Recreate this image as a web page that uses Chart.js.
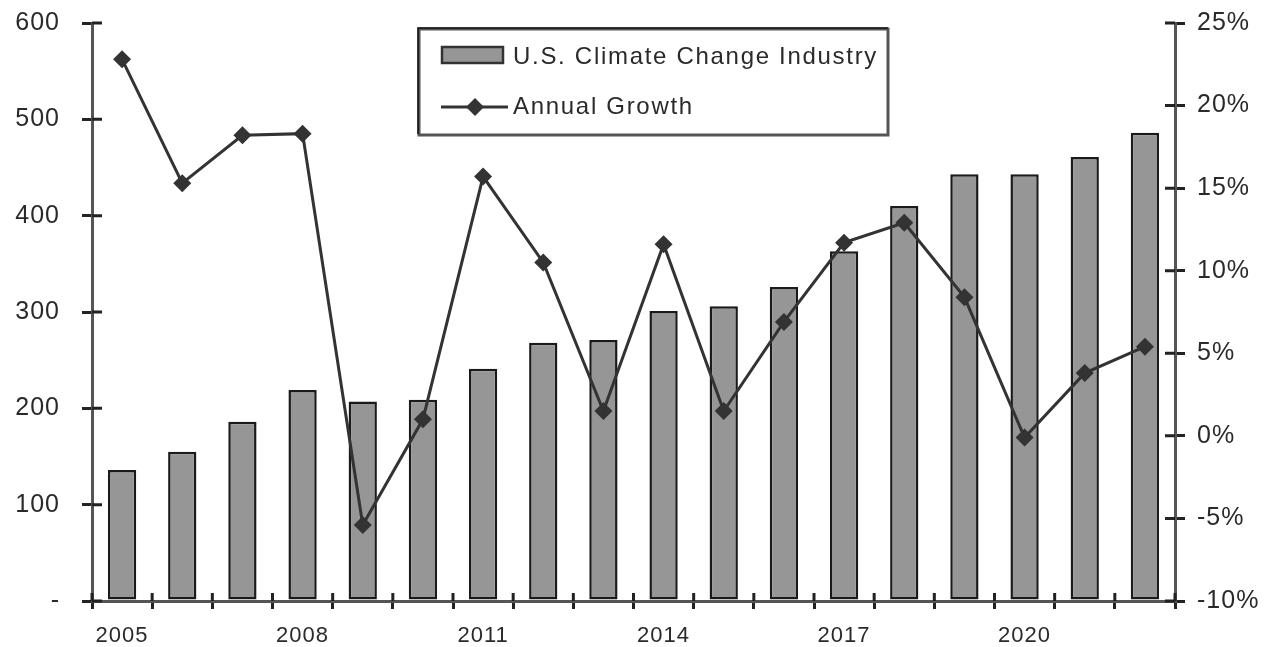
<!DOCTYPE html>
<html>
<head>
<meta charset="utf-8">
<script src="https://cdn.jsdelivr.net/npm/chart.js@4.4.1/dist/chart.umd.min.js"></script>
<style>
html,body{margin:0;padding:0;background:#fff;}
#wrap{width:1271px;height:647px;position:relative;}
</style>
</head>
<body>
<div id="wrap"><canvas id="c"></canvas></div>
<script>
const years = ['2005','2006','2007','2008','2009','2010','2011','2012','2013','2014','2015','2016','2017','2018','2019','2020','2021','2022'];
const industryValues = [136,155,186,219,207,209,241,268,271,301,306,326,363,410,443,443,461,486];
const growthValues = [22.8,15.3,18.2,18.3,-5.4,1.0,15.7,10.5,1.5,11.6,1.5,6.9,11.7,12.9,8.4,-0.1,3.8,5.4];
const leftTicks = [0,100,200,300,400,500,600];
const rightTicks = [-10,-5,0,5,10,15,20,25];
const seriesLabels = ['U.S. Climate Change Industry','Annual Growth'];

const FONT = '"Liberation Sans", Arial, sans-serif';
const TXT = '#2a2a2a';

const spacingPlugin = {
  id: 'spacing',
  beforeUpdate(chart) { chart.ctx.letterSpacing = '1px'; },
  beforeDraw(chart) { chart.ctx.letterSpacing = '1px'; }
};

const crossTicksPlugin = {
  id: 'crossTicks',
  afterDraw(chart) {
    const ctx = chart.ctx;
    const a = chart.chartArea;
    const y = chart.scales.y, y1 = chart.scales.y1;
    ctx.save();
    ctx.strokeStyle = '#222';
    ctx.lineWidth = 3;
    ctx.beginPath();
    leftTicks.forEach(v => { const p = y.getPixelForValue(v); ctx.moveTo(a.left, p); ctx.lineTo(a.left + 10, p); });
    rightTicks.forEach(v => { const p = y1.getPixelForValue(v); ctx.moveTo(a.right - 10, p); ctx.lineTo(a.right, p); });
    const n = years.length;
    for (let i = 0; i <= n; i++) {
      const px = a.left + i * (a.right - a.left) / n;
      ctx.moveTo(px, a.bottom); ctx.lineTo(px, a.bottom - 8);
    }
    ctx.stroke();
    ctx.restore();
  }
};

const legendPlugin = {
  id: 'boxLegend',
  afterDraw(chart) {
    const ctx = chart.ctx;
    ctx.save();
    ctx.fillStyle = '#fff';
    ctx.fillRect(418, 28, 470, 107);
    ctx.strokeStyle = '#555';
    ctx.lineWidth = 3;
    ctx.strokeRect(419, 29, 469, 106);
    ctx.strokeStyle = '#111';
    ctx.lineWidth = 1.5;
    ctx.beginPath();
    ctx.moveTo(418, 134); ctx.lineTo(418, 28); ctx.lineTo(888, 28);
    ctx.stroke();
    ctx.fillStyle = '#969696';
    ctx.fillRect(442, 47, 61, 16);
    ctx.strokeStyle = '#333';
    ctx.lineWidth = 2.5;
    ctx.strokeRect(442, 47, 61, 16);
    ctx.strokeStyle = '#333';
    ctx.lineWidth = 3;
    ctx.beginPath();
    ctx.moveTo(441, 107); ctx.lineTo(508, 107);
    ctx.stroke();
    ctx.fillStyle = '#333';
    ctx.beginPath();
    ctx.moveTo(475, 98); ctx.lineTo(484, 107); ctx.lineTo(475, 116); ctx.lineTo(466, 107);
    ctx.closePath(); ctx.fill();
    ctx.fillStyle = TXT;
    ctx.font = '24px ' + FONT;
    ctx.letterSpacing = '1.7px';
    ctx.textBaseline = 'middle';
    ctx.textAlign = 'left';
    ctx.fillText(seriesLabels[0], 513, 57);
    ctx.fillText(seriesLabels[1], 513, 107);
    ctx.restore();
  }
};

new Chart(document.getElementById('c'), {
  data: {
    labels: years,
    datasets: [
      {
        type: 'line',
        label: seriesLabels[1],
        data: growthValues,
        yAxisID: 'y1',
        borderColor: '#333',
        backgroundColor: '#333',
        borderWidth: 3,
        pointStyle: 'rectRot',
        pointRadius: 9,
        pointHoverRadius: 9,
        pointBorderWidth: 0,
        tension: 0,
        order: 0
      },
      {
        type: 'bar',
        label: seriesLabels[0],
        data: industryValues,
        yAxisID: 'y',
        backgroundColor: '#969696',
        borderColor: '#1a1a1a',
        borderWidth: 2.5,
        borderSkipped: false,
        barPercentage: 0.47,
        categoryPercentage: 1.0,
        order: 1
      }
    ]
  },
  options: {
    responsive: true,
    maintainAspectRatio: false,
    animation: false,
    layout: { padding: { top: 23, left: 0, right: 0, bottom: 0 } },
    plugins: { legend: { display: false }, tooltip: { enabled: false } },
    scales: {
      x: {
        offset: true,
        grid: { display: true, drawOnChartArea: false, drawTicks: true, tickLength: 8, offset: true, color: '#222', lineWidth: 3 },
        border: { display: true, color: '#555', width: 3 },
        ticks: {
          autoSkip: false, maxRotation: 0, padding: 14, color: TXT,
          font: { family: FONT, size: 22 },
          callback: function(v, i) { return i % 3 === 0 ? years[i] : ''; }
        },
        afterFit(s) { s.height = 46; s.paddingLeft = 0; s.paddingRight = 0; }
      },
      y: {
        position: 'left',
        min: 0, max: 600,
        afterBuildTicks(s) { s.ticks = leftTicks.map(v => ({ value: v })); },
        grid: { drawOnChartArea: false, drawTicks: true, tickLength: 10, color: '#222', lineWidth: 3 },
        border: { display: true, color: '#555', width: 3 },
        ticks: {
          padding: 22, color: TXT, font: { family: FONT, size: 25 },
          callback: v => v === 0 ? '-' : String(v)
        },
        afterFit(s) { s.width = 92; s.paddingTop = 0; s.paddingBottom = 0; }
      },
      y1: {
        position: 'right',
        min: -10, max: 25,
        afterBuildTicks(s) { s.ticks = rightTicks.map(v => ({ value: v })); },
        grid: { drawOnChartArea: false, drawTicks: true, tickLength: 10, color: '#222', lineWidth: 3 },
        border: { display: true, color: '#555', width: 3 },
        ticks: {
          padding: 12, color: TXT, font: { family: FONT, size: 25 },
          callback: v => v + '%'
        },
        afterFit(s) { s.width = 96; s.paddingTop = 0; s.paddingBottom = 0; }
      }
    }
  },
  plugins: [spacingPlugin, crossTicksPlugin, legendPlugin]
});
</script>
</body>
</html>
